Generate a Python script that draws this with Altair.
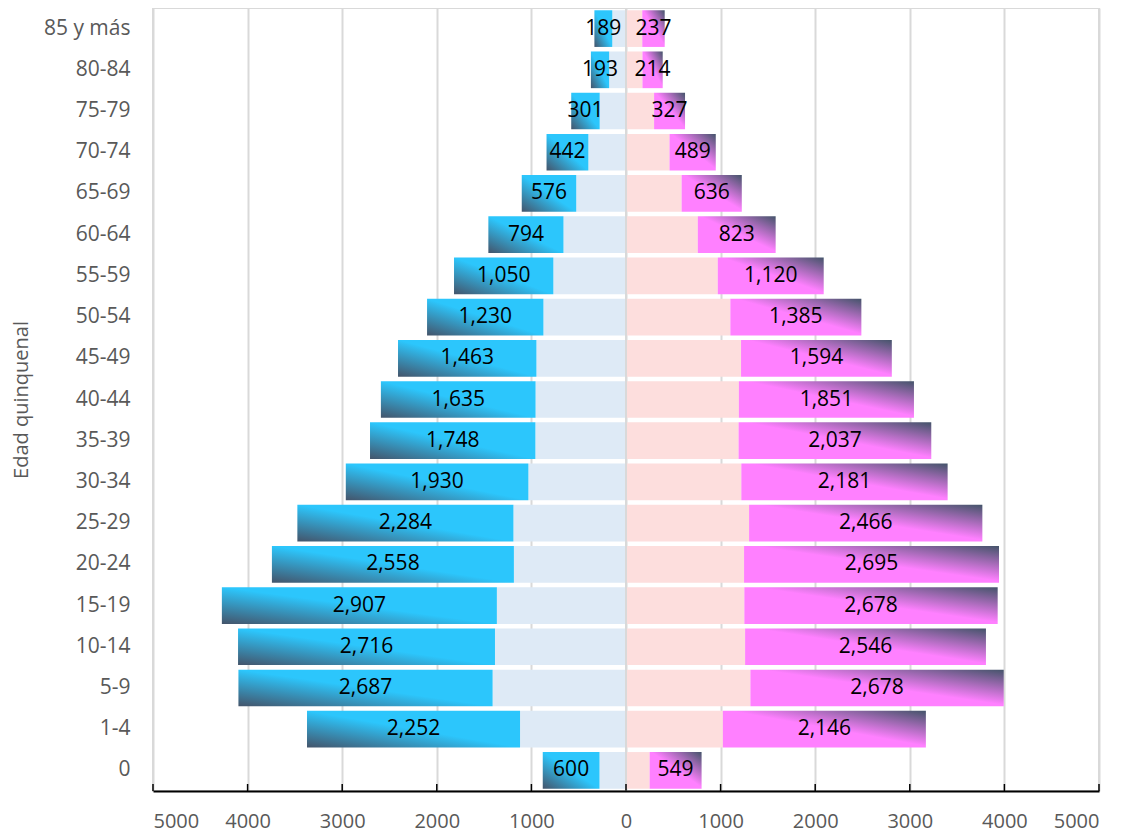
import altair as alt
import pandas as pd

# Age groups, top to bottom
edades = ["85 y más", "80-84", "75-79", "70-74", "65-69", "60-64", "55-59", "50-54",
          "45-49", "40-44", "35-39", "30-34", "25-29", "20-24", "15-19", "10-14",
          "5-9", "1-4", "0"]
# Labelled (outer, gradient) segments
hombres = [189, 193, 301, 442, 576, 794, 1050, 1230, 1463, 1635, 1748, 1930, 2284,
           2558, 2907, 2716, 2687, 2252, 600]
mujeres = [237, 214, 327, 489, 636, 823, 1120, 1385, 1594, 1851, 2037, 2181, 2466,
           2695, 2678, 2546, 2678, 2146, 549]
# Inner (light) segments
hombres_base = [145, 178, 278, 398, 526, 661, 768, 873, 947, 956, 958, 1032, 1190,
                1185, 1365, 1385, 1410, 1120, 280]
mujeres_base = [172, 174, 297, 460, 588, 759, 970, 1103, 1216, 1193, 1190, 1219, 1301,
                1248, 1251, 1259, 1315, 1024, 250]
tick_values = list(range(-5000, 5001, 1000))

df = pd.DataFrame({
    "edad": edades,
    "h": hombres,
    "hb": hombres_base,
    "m": mujeres,
    "mb": mujeres_base,
})

FONT = "Open Sans"
GRID = "#D9D9D9"
DARK = "#44546A"
CYAN = "#2CC6FC"
PINK = "#FF80FF"
LIGHT_BLUE = "#DEEAF6"
LIGHT_PINK = "#FDDEDD"

x_scale = alt.Scale(domain=[-5000, 5000], nice=False, zero=False)
x_axis = alt.Axis(values=tick_values, labelExpr="format(abs(datum.value), 'd')",
                  grid=True, gridColor=GRID, gridWidth=2, ticks=False, tickSize=0,
                  domain=True, domainColor="#000000", domainWidth=2,
                  labelFont=FONT, labelFontSize=20, labelColor="#595959",
                  labelPadding=20, title=None)
y_enc = alt.Y("edad:N", sort=edades,
              scale=alt.Scale(paddingInner=0.11, paddingOuter=0.055),
              axis=alt.Axis(domain=False, ticks=False, grid=False, labelPadding=23,
                            labelFont=FONT, labelFontSize=21, labelColor="#595959",
                            title="Edad quinquenal", titleFont=FONT, titleFontSize=20,
                            titleFontWeight="normal", titleColor="#595959",
                            titleX=-126, titleBaseline="alphabetic"))

base = alt.Chart(df).transform_calculate(
    h_in="-datum.hb",
    h_tot="-(datum.hb + datum.h)",
    h_mid="-(datum.hb + datum.h / 2)",
    m_in="datum.mb",
    m_tot="datum.mb + datum.m",
    m_mid="datum.mb + datum.m / 2",
    cero="0",
)

male_grad = alt.LinearGradient(
    gradient="linear", x1=0, y1=1, x2=1, y2=0,
    stops=[alt.GradientStop(color=DARK, offset=0),
           alt.GradientStop(color=CYAN, offset=0.5),
           alt.GradientStop(color=CYAN, offset=1)])
female_grad = alt.LinearGradient(
    gradient="linear", x1=0, y1=1, x2=1, y2=0,
    stops=[alt.GradientStop(color=PINK, offset=0),
           alt.GradientStop(color=PINK, offset=0.52),
           alt.GradientStop(color=DARK, offset=1)])

h_inner = base.mark_bar(color=LIGHT_BLUE).encode(
    x=alt.X("h_in:Q", scale=x_scale, axis=x_axis), x2="cero:Q", y=y_enc)
h_outer = base.mark_bar(color=male_grad).encode(
    x=alt.X("h_tot:Q", scale=x_scale, axis=x_axis), x2="h_in:Q", y=y_enc)
m_inner = base.mark_bar(color=LIGHT_PINK).encode(
    x=alt.X("cero:Q", scale=x_scale, axis=x_axis), x2="m_in:Q", y=y_enc)
m_outer = base.mark_bar(color=female_grad).encode(
    x=alt.X("m_in:Q", scale=x_scale, axis=x_axis), x2="m_tot:Q", y=y_enc)

h_text = base.mark_text(font=FONT, fontSize=21, color="#000000", baseline="middle").encode(
    x=alt.X("h_mid:Q", scale=x_scale, axis=x_axis), y=y_enc,
    text=alt.Text("h:Q", format=","))
m_text = base.mark_text(font=FONT, fontSize=21, color="#000000", baseline="middle").encode(
    x=alt.X("m_mid:Q", scale=x_scale, axis=x_axis), y=y_enc,
    text=alt.Text("m:Q", format=","))

zero_rule = alt.Chart(pd.DataFrame({"v": [0]})).mark_rule(
    color=GRID, strokeWidth=2).encode(x=alt.X("v:Q", scale=x_scale, axis=x_axis))

tick_marks = alt.Chart(pd.DataFrame({"t": tick_values})).mark_rule(
    color="#000000", strokeWidth=1.5).encode(
    x=alt.X("t:Q", scale=x_scale, axis=x_axis),
    y=alt.value(783), y2=alt.value(776))

chart = alt.layer(
    h_inner, h_outer, m_inner, m_outer, zero_rule, tick_marks, h_text, m_text
).properties(
    width=946, height=783,
    autosize=alt.AutoSizeParams(type="none"),
    padding={"left": 145, "top": 0, "right": 20, "bottom": 50},
).configure_view(stroke=GRID, strokeWidth=2)

chart.save("out.html", embed_options={"renderer": "svg", "actions": False})
